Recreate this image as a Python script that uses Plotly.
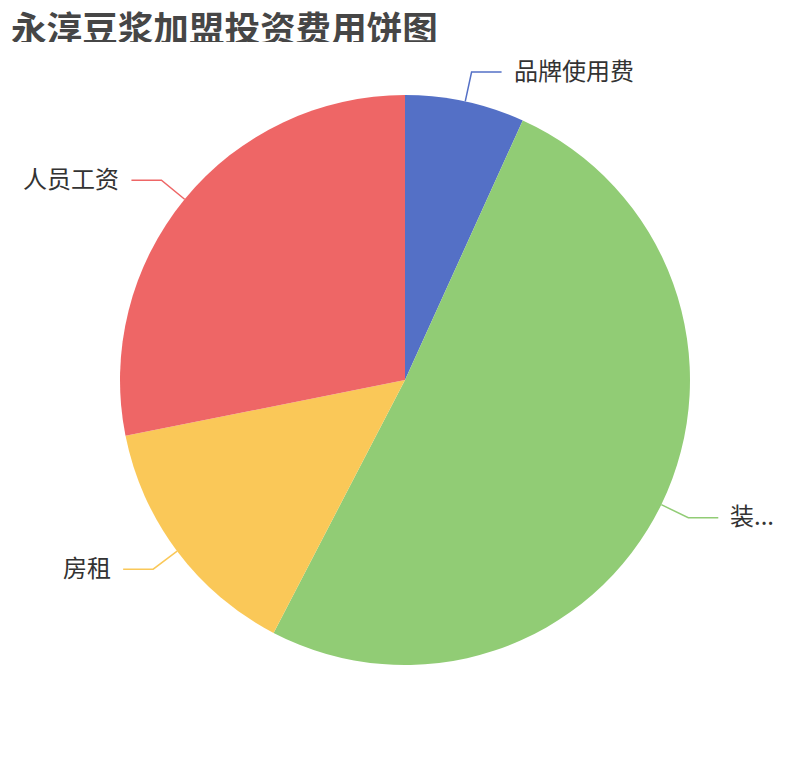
import math
import plotly.graph_objects as go

# 投资费用（万元，按图估读）
names = ["品牌使用费", "装修费用", "房租", "人员工资"]
shown = ["品牌使用费", "装...", "房租", "人员工资"]
values = [2, 15, 4.2, 8.3]
colors = ["#5470c6", "#91cc75", "#fac858", "#ee6666"]

OFF = 8  # 页面 body 默认边距
W, H = 810 - 2 * OFF, 760 - 2 * OFF
cx, cy, R = 405, 380, 285
leg1, leg2, gap = 30, 30, 10
font = "Noto Sans CJK SC, Noto Sans, sans-serif"


def px(x, y):
    # 页面像素 -> paper 坐标
    return (x - OFF) / W, 1 - (y - OFF) / H


d0, d1 = px(cx - R, cy + R), px(cx + R, cy - R)
fig = go.Figure(go.Pie(
    labels=names, values=values, sort=False, direction="clockwise", rotation=0,
    marker=dict(colors=colors, line=dict(width=0)),
    textinfo="none", showlegend=False,
    domain=dict(x=[d0[0], d1[0]], y=[d0[1], d1[1]]),
    hovertemplate="%{label}: %{value} (%{percent})<extra></extra>",
))

# 引导线与标签
total = sum(values)
start = 0
shapes, annos = [], []
for name, v, c in zip(shown, values, colors):
    mid = (start + v / 2) / total * 2 * math.pi
    start += v
    s, co = math.sin(mid), math.cos(mid)
    x0, y0 = cx + R * s, cy - R * co
    x1, y1 = cx + (R + leg1) * s, cy - (R + leg1) * co
    side = 1 if s >= 0 else -1
    x2 = x1 + side * leg2
    p0, p1, p2 = px(x0, y0), px(x1, y1), px(x2, y1)
    shapes.append(dict(type="path", xref="paper", yref="paper",
                       path=f"M {p0[0]} {p0[1]} L {p1[0]} {p1[1]} L {p2[0]} {p2[1]}",
                       line=dict(color=c, width=1.5)))
    tx = px(x2 + side * gap, y1 - 3)
    annos.append(dict(text=name, x=tx[0], y=tx[1], xref="paper", yref="paper",
                      xanchor="left" if side > 0 else "right", yanchor="middle",
                      showarrow=False, font=dict(size=24, color="#333333", family=font)))

t = px(9, OFF)
annos.append(dict(text="<b>永淳豆浆加盟投资费用饼图</b>", x=t[0], y=t[1],
                  xref="paper", yref="paper", xanchor="left", yanchor="top",
                  height=32, valign="middle",
                  showarrow=False, font=dict(size=35.6, color="#464646", family=font)))

fig.update_layout(
    width=W, height=H, autosize=False,
    margin=dict(l=0, r=0, t=0, b=0),
    paper_bgcolor="white", plot_bgcolor="white",
    shapes=shapes, annotations=annos,
)

fig.write_html("out.html")
